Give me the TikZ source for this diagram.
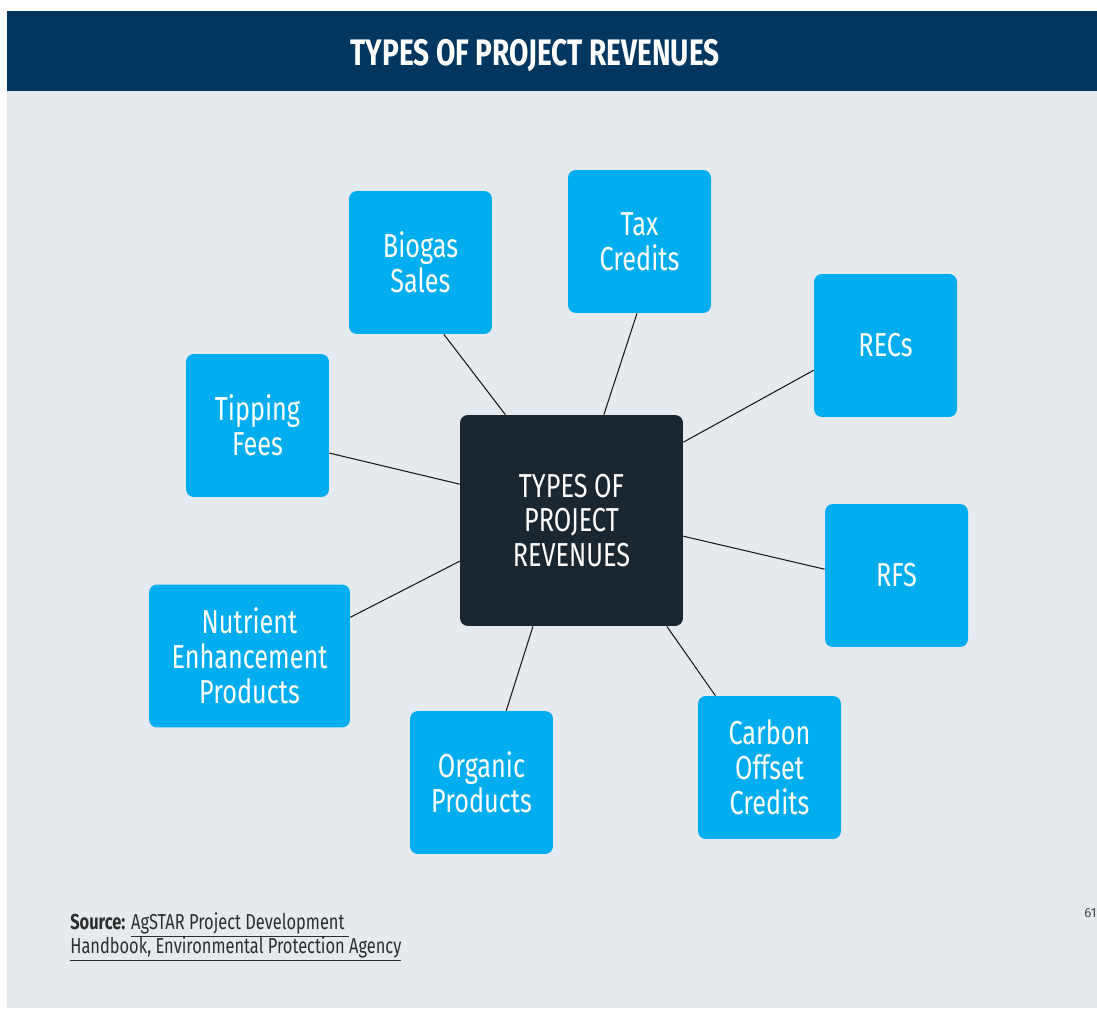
\documentclass[tikz,border=0pt]{standalone}
\usepackage{fontspec}
\usepackage{tikz}
\usetikzlibrary{positioning}
\newfontfamily\condfont{Fira Sans}[FakeStretch=0.76]
\newfontfamily\plainfont{Fira Sans}

\definecolor{headblue}{HTML}{00365F}
\definecolor{panelgray}{HTML}{E5EAEE}
\definecolor{boxcyan}{HTML}{00AEEF}
\definecolor{hubdark}{HTML}{1A2731}
\definecolor{srcgray}{HTML}{2E2E2E}

\tikzset{
	revbox/.style={fill=boxcyan, rounded corners=4.5pt, inner sep=0pt,
		minimum width=2.86cm, minimum height=2.86cm, text=white, align=center,
		font=\condfont\fontsize{18.9}{19.8}\selectfont},
	hubbox/.style={revbox, fill=hubdark, minimum width=4.46cm, minimum height=4.22cm},
	link/.style={draw=black!90, line width=0.6pt},
	srctext/.style={anchor=base west, inner sep=0pt, text=srcgray,
		font=\condfont\fontsize{12.3}{14}\selectfont}
}

\begin{document}
\begin{tikzpicture}[x=0.02cm, y=-0.02cm]
		% Page and panel
		\useasboundingbox (0, 0) rectangle (1097, 1013);
		\fill[white] (0, 0) rectangle (1097, 1013);
		\fill[panelgray] (7, 91) rectangle (1097, 1008);
		\fill[headblue] (7, 11) rectangle (1097, 91);
		\node[anchor=base, inner sep=0pt, text=white, font=\condfont\bfseries\fontsize{21}{22}\selectfont] (title) at (535, 66) {TYPES OF PROJECT REVENUES};
		
		% Revenue boxes
		\node[revbox] (biogas) at (420.5, 262.5) {Biogas\\Sales};
		\node[revbox] (tax) at (639.5, 241.5) {Tax\\Credits};
		\node[revbox] (recs) at (885.5, 345.5) {RECs};
		\node[revbox] (tipping) at (257.5, 425.5) {Tipping\\Fees};
		\node[revbox] (rfs) at (896.5, 575.5) {RFS};
		\node[revbox, minimum width=4.02cm] (nutrient) at (249.5, 656) {Nutrient\\Enhancement\\Products};
		\node[revbox] (organic) at (481.5, 782.5) {Organic\\Products};
		\node[revbox] (carbon) at (769.5, 767.5) {Carbon\\Offset\\Credits};
		\node[hubbox] (hub) at (571.5, 520.5) {TYPES OF\\PROJECT\\REVENUES};
		
		% Connectors to the hub
		\draw[link] (hub.122) -- (biogas.-72);
		\draw[link] (hub.73.5) -- (tax.-92);
		\draw[link] (hub.35.5) -- (recs.-161);
		\draw[link] (hub.162) -- (tipping.-21);
		\draw[link] (hub.-8) -- (rfs.175);
		\draw[link] (hub.-160) -- (nutrient.21);
		\draw[link] (hub.-110) -- (organic.71);
		\draw[link] (hub.-48.4) -- (carbon.127);
		
		% Source and page number
		\node[srctext] (source) at (70, 929) {\textbf{Source:} \underline{AgSTAR Project Development\ }};
		\node[srctext] (handbook) at (70, 953) {\underline{Handbook, Environmental Protection Agency}};
		\node[anchor=base west, inner sep=0pt, text=black!70, font=\plainfont\fontsize{7.5}{9}\selectfont] (pagenum) at (1084, 917) {61};
	\end{tikzpicture}
\end{document}
